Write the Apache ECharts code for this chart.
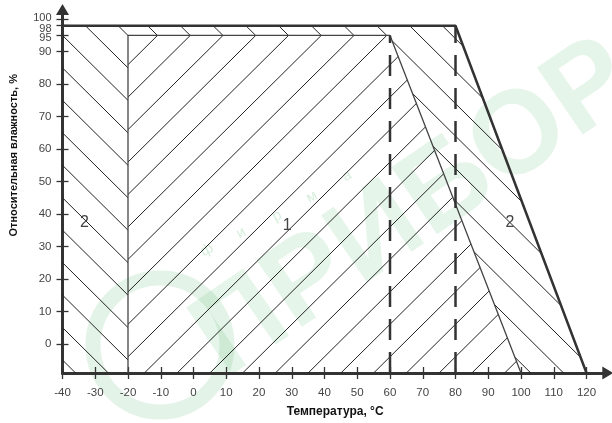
<!DOCTYPE html>
<html><head><meta charset="utf-8">
<script src="https://cdn.jsdelivr.net/npm/echarts@6/dist/echarts.min.js"></script>
<style>html,body{margin:0;padding:0;background:#fff}#c{width:612px;height:423px}</style>
</head><body><div id="c"></div>
<script>
// ---- data ----
const xTicks = [-40,-30,-20,-10,0,10,20,30,40,50,60,70,80,90,100,110,120];
const yTicks = [0,10,20,30,40,50,60,70,80,90,95,98,100];
const region1 = [[-20,-9],[-20,95],[60,95],[100,-9]];
const region2Left = [[-40,-9],[-40,98],[-20,98],[-20,-9]];
const region2Top = [[-20,95],[-20,98],[60,98],[60,95]];
const region2Right = [[60,95],[60,98],[80,98],[120,-9],[100,-9]];
const outerBoundary = [[-40,98],[80,98],[120,-9]];
const region1Boundary = [[-20,-9],[-20,95],[60,95],[100,-9]];
const dashed60 = [[60,-9],[60,95]];
const dashed80 = [[80,-9],[80,98]];
const regionLabelText = ['2','1','2'];
const regionLabelPos = [[-33.3,37.4],[28.6,36.5],[96.6,37.2]];

// ---- hatch helper: chords of lines y = slope*x + c inside a convex polygon ----
function hatch(poly, slope, phase, step) {
  const cs = poly.map(p => p[1] - slope * p[0]);
  const cmin = Math.min(...cs), cmax = Math.max(...cs);
  const segs = [];
  for (let c = Math.ceil((cmin - phase) / step) * step + phase; c <= cmax + 1e-9; c += step) {
    const pts = [];
    for (let i = 0; i < poly.length; i++) {
      const a = poly[i], b = poly[(i + 1) % poly.length];
      const fa = a[1] - slope * a[0] - c, fb = b[1] - slope * b[0] - c;
      if ((fa <= 0 && fb >= 0) || (fa >= 0 && fb <= 0)) {
        if (fa === fb) continue;
        const t = fa / (fa - fb);
        pts.push([a[0] + t * (b[0] - a[0]), a[1] + t * (b[1] - a[1])]);
      }
    }
    if (pts.length >= 2) {
      pts.sort((p, q) => p[0] - q[0]);
      const p = pts[0], q = pts[pts.length - 1];
      if (Math.hypot(q[0] - p[0], q[1] - p[1]) > 0.3) segs.push([p[0], p[1], q[0], q[1]]);
    }
  }
  return segs;
}
const hatchSegs = [].concat(
  hatch(region1, 1, 6, 10),
  hatch(region2Left, -1, 5, 10),
  hatch(region2Top, -1, 4, 10),
  hatch(region2Right, -1, 4, 10)
);

const FONT = 'Arial, "Liberation Sans", sans-serif';
const chart = echarts.init(document.getElementById('c'), null, {renderer: 'canvas'});

const baseX = {type: 'value', min: -40, max: 126.5, position: 'bottom', splitLine: {show: false}};
const baseY = {type: 'value', min: -9, max: 103, position: 'left', splitLine: {show: false}};

chart.setOption({
  animation: false,
  backgroundColor: '#fff',
  grid: {left: 60, top: 9.5, width: 547.8, height: 368.5, containLabel: false},
  xAxis: [
    Object.assign({}, baseX, {
      axisLine: {show: true, onZero: false, lineStyle: {color: '#333', width: 3}, symbol: ['none', 'triangle'], symbolSize: [13, 11]},
      axisTick: {show: true, customValues: xTicks, length: 6, lineStyle: {color: '#333', width: 1.3}},
      axisLabel: {show: true, customValues: xTicks, margin: 14, fontSize: 11.5, color: '#444', fontFamily: FONT},
      name: 'Температура, °C', nameLocation: 'middle', nameGap: 33,
      nameTextStyle: {fontSize: 12, fontWeight: 'bold', color: '#111', fontFamily: FONT}
    }),
    Object.assign({}, baseX, {
      axisLine: {show: false, onZero: false},
      axisTick: {show: true, inside: true, customValues: xTicks, length: 6, lineStyle: {color: '#333', width: 1.3}},
      axisLabel: {show: false}
    })
  ],
  yAxis: [
    Object.assign({}, baseY, {
      axisLine: {show: true, onZero: false, lineStyle: {color: '#333', width: 3}, symbol: ['none', 'triangle'], symbolSize: [13, 11]},
      axisTick: {show: true, customValues: yTicks, length: 6, lineStyle: {color: '#333', width: 1.3}},
      axisLabel: {
        show: true, customValues: yTicks, margin: 11, fontSize: 11.5, color: '#444', fontFamily: FONT,
        formatter: function (v) {
          if (v === 100) return '{u|100}';
          if (v === 98 || v === 95) return '{d|' + v + '}';
          return String(v);
        },
        rich: {
          u: {fontSize: 11, color: '#444', fontFamily: FONT, padding: [0, 0, 3, 0]},
          d: {fontSize: 11, color: '#444', fontFamily: FONT, padding: [6, 0, 0, 0]}
        }
      },
      name: 'Относительная влажность, %', nameLocation: 'middle', nameGap: 43.5, nameRotate: 90,
      nameTextStyle: {fontSize: 11, fontWeight: 'bold', color: '#111', fontFamily: FONT, padding: [0, 0, 0, 72]}
    }),
    Object.assign({}, baseY, {
      axisLine: {show: false, onZero: false},
      axisTick: {show: true, inside: true, customValues: yTicks, length: 6, lineStyle: {color: '#333', width: 1.3}},
      axisLabel: {show: false}
    })
  ],
  series: [
    {
      type: 'custom', silent: true, clip: false,
      data: hatchSegs,
      renderItem: function (params, api) {
        const p1 = api.coord([api.value(0), api.value(1)]);
        const p2 = api.coord([api.value(2), api.value(3)]);
        return {type: 'line', shape: {x1: p1[0], y1: p1[1], x2: p2[0], y2: p2[1]},
          style: {stroke: '#222', lineWidth: 1}};
      }
    },
    {type: 'line', data: region1Boundary, symbol: 'none', silent: true,
      lineStyle: {color: '#444', width: 1.3}},
    {type: 'line', data: outerBoundary, symbol: 'none', silent: true,
      lineStyle: {color: '#333', width: 2.5}},
    {type: 'line', data: dashed60, symbol: 'none', silent: true,
      lineStyle: {color: '#333', width: 2.5, type: [21, 12], cap: 'butt'}},
    {type: 'line', data: dashed80, symbol: 'none', silent: true,
      lineStyle: {color: '#333', width: 2.5, type: [21, 12], cap: 'butt'}},
    {
      type: 'custom', silent: true, clip: false,
      data: regionLabelPos,
      renderItem: function (params, api) {
        const p = api.coord([api.value(0), api.value(1)]);
        return {type: 'text', x: p[0], y: p[1],
          style: {text: regionLabelText[params.dataIndex], fill: '#444', font: '16px ' + FONT,
            align: 'center', verticalAlign: 'middle'}};
      }
    }
  ],
  graphic: [
    {type: 'group', silent: true, z: 100, children: [
      {type: 'circle', shape: {cx: 160, cy: 345, r: 67},
        style: {fill: 'none', stroke: 'rgba(30,160,60,0.12)', lineWidth: 15}},
      {type: 'text', x: 415, y: 210, rotation: 0.6,
        style: {text: 'ПРИБОР', font: 'bold 118px ' + FONT, fill: 'rgba(30,160,60,0.11)',
          align: 'center', verticalAlign: 'middle'}},
      {type: 'text', x: 207, y: 250, rotation: 0.48, style: {text: 'ф', font: '15px ' + FONT, fill: 'rgba(30,160,60,0.18)', align: 'center', verticalAlign: 'middle'}},
      {type: 'text', x: 241, y: 233, rotation: 0.48, style: {text: 'и', font: '15px ' + FONT, fill: 'rgba(30,160,60,0.18)', align: 'center', verticalAlign: 'middle'}},
      {type: 'text', x: 277, y: 216, rotation: 0.48, style: {text: 'р', font: '15px ' + FONT, fill: 'rgba(30,160,60,0.18)', align: 'center', verticalAlign: 'middle'}},
      {type: 'text', x: 312, y: 197, rotation: 0.48, style: {text: 'м', font: '15px ' + FONT, fill: 'rgba(30,160,60,0.18)', align: 'center', verticalAlign: 'middle'}},
      {type: 'text', x: 347, y: 176, rotation: 0.48, style: {text: 'а', font: '15px ' + FONT, fill: 'rgba(30,160,60,0.18)', align: 'center', verticalAlign: 'middle'}}
    ]}
  ]
});
</script>
</body></html>
